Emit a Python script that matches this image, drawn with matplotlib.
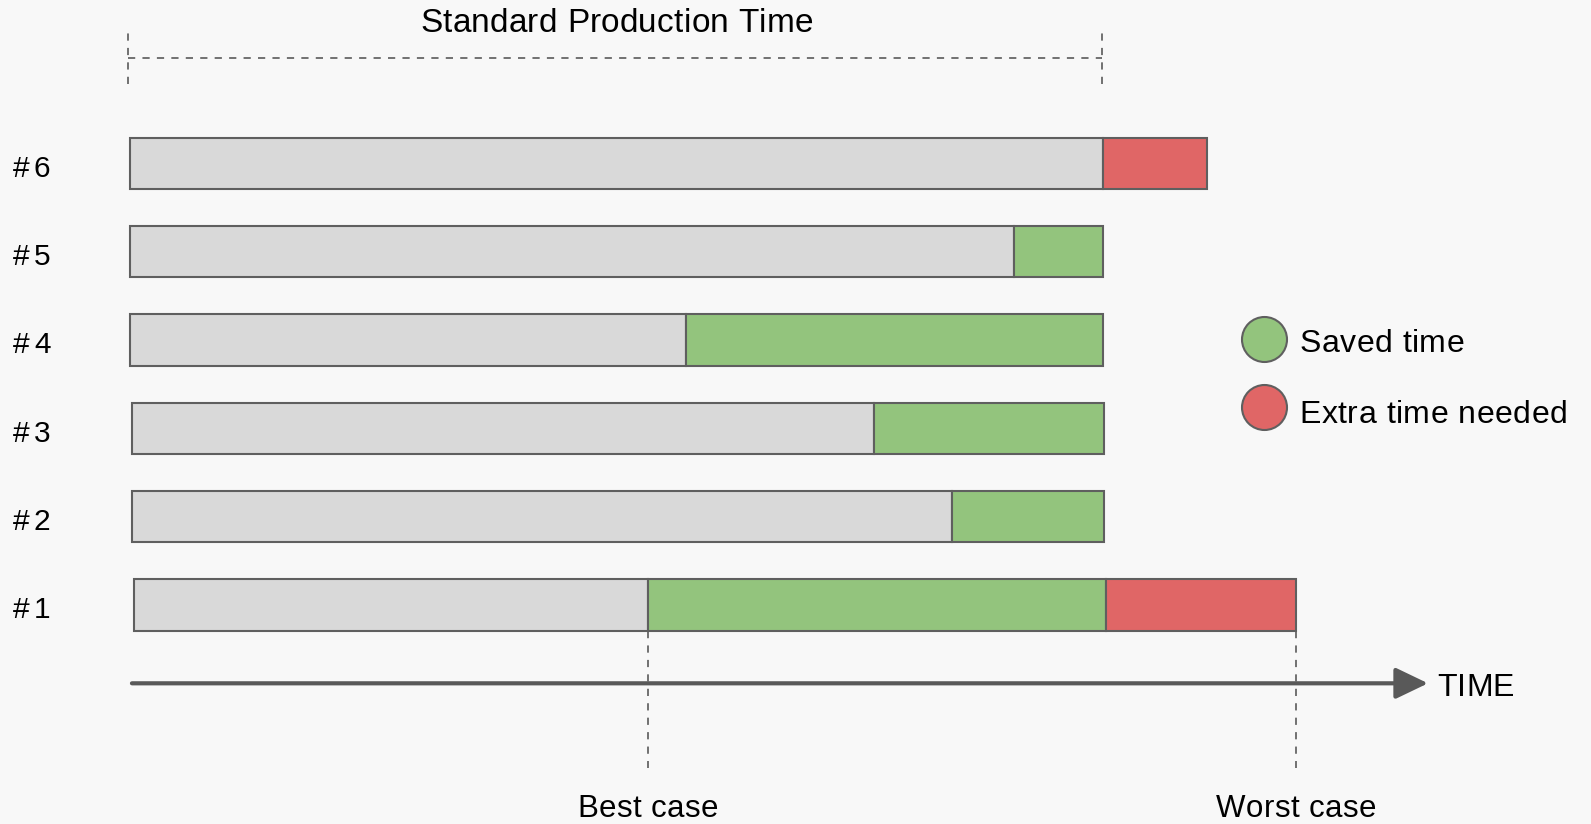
import matplotlib.pyplot as plt
from matplotlib.font_manager import FontProperties, findfont
from matplotlib.ft2font import FT2Font

FONT = 'Liberation Sans'
plt.rcParams['font.family'] = [FONT, 'DejaVu Sans']

# production runs, bottom to top (time in % of standard production time)
labels = ['#1', '#2', '#3', '#4', '#5', '#6']
starts = [0.4, 0.2, 0.2, 0.0, 0.0, 0.0]
actual = [53.2, 84.5, 76.5, 57.1, 90.8, 100.0]
saved = [47.1, 15.6, 23.6, 42.9, 9.2, 0.0]
extra = [19.5, 0.0, 0.0, 0.0, 0.0, 10.7]
standard_time = 100.0
best_case = 53.2
worst_case = 119.8

legend_labels = ['Saved time', 'Extra time needed']

GRAY = '#d9d9d9'
GREEN = '#93c47d'
RED = '#e06666'
EDGE = '#5f5f5f'
BG = '#f8f8f8'
DPI = 100

fig = plt.figure(figsize=(15.91, 8.24), dpi=DPI, facecolor=BG)
ax = fig.add_axes([0, 0, 1, 1])
ax.set_facecolor(BG)
ax.set_xlim(-13.36, 150.15)
ax.set_ylim(-1.48, 7.85)
ax.axis('off')

ft = FT2Font(findfont(FontProperties(family=FONT)), hinting_factor=1)


def spaced_text(x, y, s, size, spacing=0.5, ha='left'):
    # draw text char by char with a little extra tracking (pixels)
    ft.set_size(size, DPI)
    advs = []
    for c in s:
        g = ft.load_char(ord(c))
        advs.append(g.linearHoriAdvance / 65536.0)
    total = sum(advs) + spacing * (len(s) - 1)
    px, py = ax.transData.transform((x, y))
    if ha == 'center':
        px -= total / 2
    inv = ax.transData.inverted()
    for c, a in zip(s, advs):
        if c != ' ':
            dx, dy = inv.transform((px, py))
            ax.text(dx, dy, c, fontsize=size, ha='left', va='baseline', color='black')
        px += a + spacing


rows = list(range(1, len(labels) + 1))
h = 0.58
for y, s, a, sv, ex in zip(rows, starts, actual, saved, extra):
    ax.barh(y, a - s, left=s, height=h, color=GRAY, edgecolor=EDGE, linewidth=1.5, zorder=2)
    if sv > 0:
        ax.barh(y, sv, left=a, height=h, color=GREEN, edgecolor=EDGE, linewidth=1.5, zorder=2)
    if ex > 0:
        ax.barh(y, ex, left=a + sv, height=h, color=RED, edgecolor=EDGE, linewidth=1.5, zorder=2)

for y, lab in zip(rows, labels):
    spaced_text(-12.0, y - 0.15, lab, 21.5, spacing=4)

# standard production time bracket
dash = (0, (4, 4))
ax.plot([-0.2, standard_time - 0.1], [7.19, 7.19], color='#666666', lw=1.3, ls=dash)
for x in [-0.2, standard_time - 0.1]:
    ax.plot([x, x], [6.9, 7.49], color='#666666', lw=1.3, ls=dash)
spaced_text(standard_time / 2, 7.488, 'Standard Production Time', 24, spacing=0.4, ha='center')

# time axis arrow
ax.annotate('', xy=(133.4, 0.113), xytext=(0.2, 0.113),
            arrowprops=dict(arrowstyle='-|>,head_length=0.5,head_width=0.24', mutation_scale=40,
                            lw=3, color='#595959', shrinkA=0, shrinkB=0))
spaced_text(134.4, -0.032, 'TIME', 23, spacing=0.0)

# best / worst case markers
for x, lab in [(best_case, 'Best case'), (worst_case, 'Worst case')]:
    ax.plot([x, x], [1 - h / 2, -0.85], color='#666666', lw=1.3, ls=dash, zorder=1)
    spaced_text(x, -1.402, lab, 22.5, spacing=0.5, ha='center')

# legend
for y, base, col, lab in zip([4.01, 3.24], [3.870, 3.063], [GREEN, RED], legend_labels):
    ax.scatter([116.5], [y], s=1050, color=col, edgecolor=EDGE, linewidth=1.5, zorder=3)
    spaced_text(120.2, base, lab, 23, spacing=0.5)

fig.savefig('out.png', dpi=DPI, facecolor=BG)
